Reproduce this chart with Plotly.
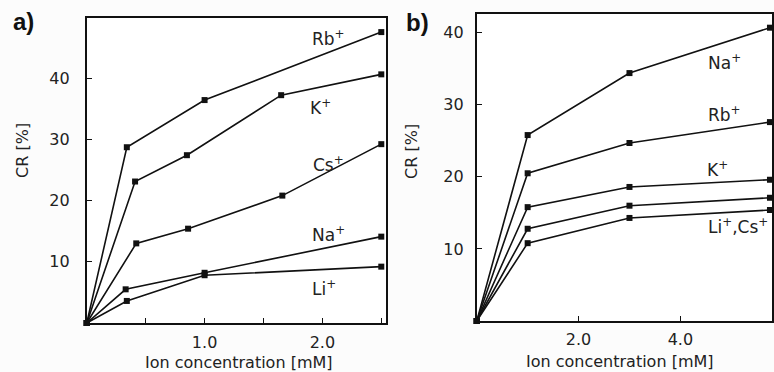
import plotly.graph_objects as go

# ---------- panel a: CR vs ion concentration (0 - 2.5 mM) ----------
a_rb_x = [0, 0.34, 1.0, 2.5]
a_rb_y = [0, 28.7, 36.4, 47.5]
a_k_x = [0, 0.41, 0.85, 1.65, 2.5]
a_k_y = [0, 23.1, 27.4, 37.2, 40.6]
a_cs_x = [0, 0.42, 0.86, 1.66, 2.5]
a_cs_y = [0, 13.0, 15.4, 20.8, 29.2]
a_na_x = [0, 0.33, 1.0, 2.5]
a_na_y = [0, 5.5, 8.2, 14.1]
a_li_x = [0, 0.34, 1.0, 2.5]
a_li_y = [0, 3.6, 7.8, 9.2]

a_xticks = [0.5, 1.0, 1.5, 2.0, 2.5]
a_xticklabels = ["", "1.0", "", "2.0", ""]
a_yticks = [10, 20, 30, 40]

# ---------- panel b: CR vs ion concentration (0 - 6 mM) ----------
b_x = [0, 1.0, 3.0, 5.76]
b_na_y = [0, 25.8, 34.4, 40.7]
b_rb_y = [0, 20.5, 24.7, 27.6]
b_k_y = [0, 15.8, 18.6, 19.6]
b_lics_upper_y = [0, 12.8, 16.0, 17.1]
b_lics_lower_y = [0, 10.8, 14.3, 15.4]

b_xticks = [2.0, 4.0]
b_xticklabels = ["2.0", "4.0"]
b_yticks = [10, 20, 30, 40]

W, H = 774, 372
FONT = "DejaVu Sans"
INK = "#111111"


def px(x):
    return x / W


def py(y):
    return 1 - y / H


fig = go.Figure()

line_style = dict(color=INK, width=1.6)
marker_style = dict(symbol="square", size=6, color=INK)

for xs, ys, name in [
    (a_rb_x, a_rb_y, "Rb+"),
    (a_k_x, a_k_y, "K+"),
    (a_cs_x, a_cs_y, "Cs+"),
    (a_na_x, a_na_y, "Na+"),
    (a_li_x, a_li_y, "Li+"),
]:
    fig.add_trace(go.Scatter(x=xs, y=ys, name=name, mode="lines+markers",
                             line=line_style, marker=marker_style,
                             xaxis="x", yaxis="y", showlegend=False,
                             cliponaxis=False))

for ys, name in [
    (b_na_y, "Na+"),
    (b_rb_y, "Rb+"),
    (b_k_y, "K+"),
    (b_lics_upper_y, "Li+/Cs+"),
    (b_lics_lower_y, "Li+/Cs+"),
]:
    fig.add_trace(go.Scatter(x=b_x, y=ys, name=name, mode="lines+markers",
                             line=line_style, marker=marker_style,
                             xaxis="x2", yaxis="y2", showlegend=False,
                             cliponaxis=False))

axis_common = dict(
    showline=True, linecolor=INK, linewidth=2, mirror=True,
    showgrid=False, zeroline=False,
    ticks="inside", ticklen=5, tickwidth=1, tickcolor=INK,
    tickfont=dict(family=FONT, size=16, color="#222222"),
)

fig.update_layout(
    width=W, height=H,
    margin=dict(l=0, r=0, t=0, b=0),
    paper_bgcolor="#fcfcfc",
    plot_bgcolor="#ffffff",
    xaxis=dict(domain=[px(87), px(387)], range=[0, 2.54],
               tickvals=a_xticks, ticktext=a_xticklabels,
               ticklabelstandoff=4, anchor="y", **axis_common),
    yaxis=dict(domain=[py(323), py(18)], range=[0, 49.8],
               tickvals=a_yticks, ticklabelstandoff=12,
               anchor="x", **axis_common),
    xaxis2=dict(domain=[px(478), 1.0], range=[0, 5.8],
                tickvals=b_xticks, ticktext=b_xticklabels,
                ticklabelstandoff=3, anchor="y2", **axis_common),
    yaxis2=dict(domain=[py(321), py(14)], range=[0, 42.6],
                tickvals=b_yticks, ticklabelstandoff=8,
                anchor="x2", **axis_common),
)

text_font = dict(family=FONT, size=17, color="#222222")
title_font = dict(family=FONT, size=16, color="#222222")


def note(x, y, text, **kw):
    fig.add_annotation(x=px(x), y=py(y), xref="paper", yref="paper",
                       text=text, showarrow=False, xanchor="center",
                       yanchor="middle", font=kw.pop("font", text_font), **kw)


# panel letters
note(24, 22, "<b>a)</b>", font=dict(family="Liberation Sans", size=24, color="#111111"))
note(419, 23, "<b>b)</b>", font=dict(family="Liberation Sans", size=24, color="#111111"))

# axis titles
note(22, 150, "CR [%]", textangle=-90, font=title_font)
note(412, 151, "CR [%]", textangle=-90, font=title_font)
note(240, 362, "Ion concentration [mM]", font=title_font)
note(622, 361, "Ion concentration [mM]", font=title_font)

# series labels, panel a
note(329, 38, "Rb<sup>+</sup>")
note(321, 107, "K<sup>+</sup>")
note(329, 164, "Cs<sup>+</sup>")
note(329, 234, "Na<sup>+</sup>")
note(325, 288, "Li<sup>+</sup>")

# series labels, panel b
note(726, 62, "Na<sup>+</sup>")
note(726, 114, "Rb<sup>+</sup>")
note(719, 169, "K<sup>+</sup>")
note(740, 226, "Li<sup>+</sup>,Cs<sup>+</sup>")

fig.write_html("out.html")
